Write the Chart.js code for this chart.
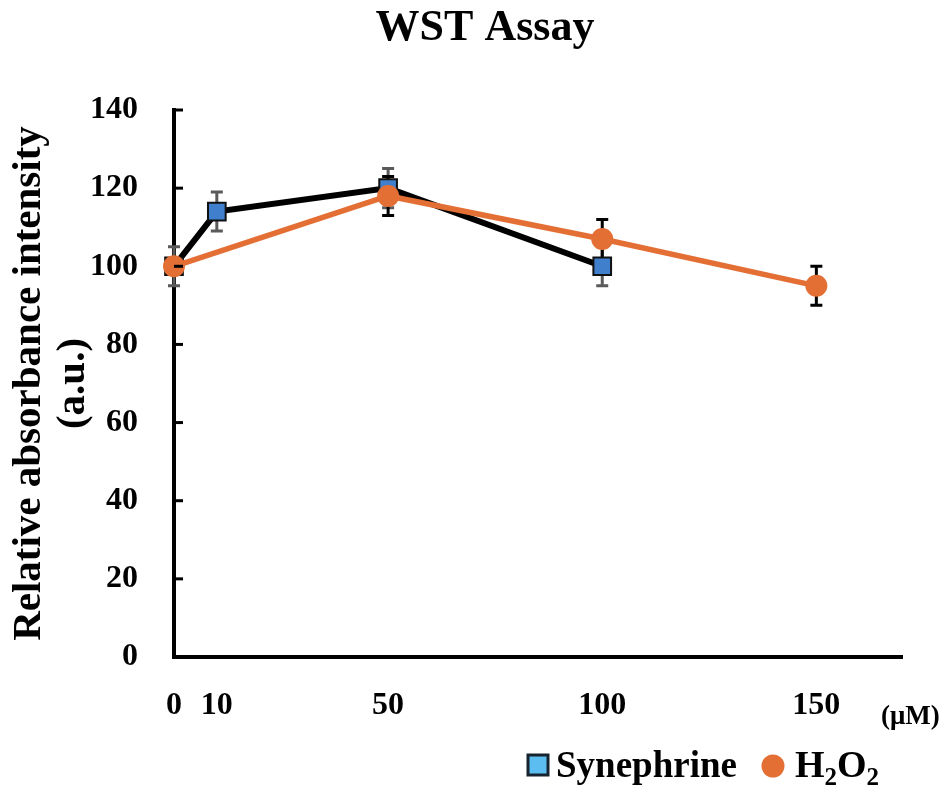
<!DOCTYPE html>
<html>
<head>
<meta charset="utf-8">
<title>WST Assay</title>
<script src="https://cdn.jsdelivr.net/npm/chart.js@4.4.1/dist/chart.umd.min.js"></script>
<style>
  html, body { margin: 0; padding: 0; background: #fff; }
  #wrap { width: 950px; height: 786px; }
</style>
</head>
<body>
<div id="wrap"><canvas id="chart" width="950" height="786"></canvas></div>
<script>
// values
const synephrineDose = [0, 10, 50, 100];
const synephrineValues = [100, 114, 120, 100];
const synephrineErrors = [5, 5, 5, 5];
const h2o2Dose = [0, 50, 100, 150];
const h2o2Values = [100, 118, 107, 95];
const h2o2Errors = [0, 5, 5, 5];
const doseTicks = [0, 10, 50, 100, 150];

const serif = '"Liberation Serif", "Times New Roman", serif';
const orange = '#E46F34';
const blue = '#3F7FCC';

const toPoints = (xs, ys) => xs.map((x, i) => ({ x: x, y: ys[i] }));

// error bars drawn under the markers
const errorBars = {
  id: 'errorBars',
  beforeDatasetsDraw(chart) {
    const { ctx, scales: { x, y } } = chart;
    chart.data.datasets.forEach((ds) => {
      if (!ds.errors) return;
      ctx.save();
      ctx.strokeStyle = ds.errorColor;
      ctx.lineWidth = 3;
      ds.data.forEach((p, i) => {
        const e = ds.errors[i];
        if (!e) return;
        const px = x.getPixelForValue(p.x);
        const top = y.getPixelForValue(p.y + e);
        const bot = y.getPixelForValue(p.y - e);
        ctx.beginPath();
        ctx.moveTo(px, top); ctx.lineTo(px, bot);
        ctx.moveTo(px - 6, top); ctx.lineTo(px + 6, top);
        ctx.moveTo(px - 6, bot); ctx.lineTo(px + 6, bot);
        ctx.stroke();
      });
      ctx.restore();
    });
  }
};

// title, inward y ticks, unit label and legend
const extras = {
  id: 'extras',
  afterDraw(chart) {
    const { ctx, chartArea, scales: { y } } = chart;
    ctx.save();
    ctx.strokeStyle = '#000';
    ctx.lineWidth = 3;
    y.ticks.forEach(t => {
      const py = y.getPixelForValue(t.value);
      ctx.beginPath();
      ctx.moveTo(chartArea.left, py);
      ctx.lineTo(chartArea.left + 9, py);
      ctx.stroke();
    });

    ctx.fillStyle = '#000';
    ctx.textAlign = 'center';
    ctx.textBaseline = 'alphabetic';
    ctx.font = 'bold 44px ' + serif;
    ctx.fillText('WST Assay', 485, 40);

    ctx.textAlign = 'left';
    ctx.font = 'bold 27px ' + serif;
    ctx.fillText('(\u03BCM)', 881, 724);

    // legend
    ctx.fillStyle = '#5BBDF0';
    ctx.strokeStyle = '#17232E';
    ctx.lineWidth = 3;
    ctx.fillRect(528, 755, 20, 20);
    ctx.strokeRect(528, 755, 20, 20);
    ctx.fillStyle = '#000';
    ctx.font = 'bold 37px ' + serif;
    ctx.fillText('Synephrine', 556, 777);

    ctx.fillStyle = orange;
    ctx.beginPath();
    ctx.arc(773, 766, 11.5, 0, Math.PI * 2);
    ctx.fill();

    ctx.fillStyle = '#000';
    let xPos = 795;
    const parts = [['H', 38, 0], ['2', 25, 8], ['O', 38, 0], ['2', 25, 8]];
    parts.forEach(([s, size, dy]) => {
      ctx.font = 'bold ' + size + 'px ' + serif;
      ctx.fillText(s, xPos, 777 + dy);
      xPos += ctx.measureText(s).width;
    });
    ctx.restore();
  }
};

new Chart(document.getElementById('chart'), {
  type: 'line',
  data: {
    datasets: [
      {
        label: 'Synephrine',
        data: toPoints(synephrineDose, synephrineValues),
        errors: synephrineErrors,
        errorColor: '#5A5A5A',
        borderColor: '#000',
        borderWidth: 6,
        pointStyle: 'rect',
        pointRadius: 12.5,
        pointBackgroundColor: blue,
        pointBorderColor: '#111',
        pointBorderWidth: 2,
        tension: 0,
        clip: false,
        order: 2
      },
      {
        label: 'H\u2082O\u2082',
        data: toPoints(h2o2Dose, h2o2Values),
        errors: h2o2Errors,
        errorColor: '#000',
        borderColor: orange,
        borderWidth: 5.5,
        pointStyle: 'circle',
        pointRadius: 11,
        pointBackgroundColor: orange,
        pointBorderColor: orange,
        pointBorderWidth: 0,
        tension: 0,
        clip: false,
        order: 1
      }
    ]
  },
  options: {
    responsive: false,
    animation: false,
    layout: { padding: { top: 110, right: 48, bottom: 0, left: 0 } },
    plugins: {
      legend: { display: false },
      title: { display: false },
      tooltip: { enabled: false }
    },
    scales: {
      x: {
        type: 'linear',
        min: 0,
        max: 170,
        afterBuildTicks: (scale) => { scale.ticks = doseTicks.map(v => ({ value: v })); },
        afterFit: (scale) => { scale.height = 129; },
        grid: { display: false },
        border: { display: true, color: '#000', width: 4 },
        ticks: {
          color: '#000',
          padding: 22,
          maxRotation: 0,
          autoSkip: false,
          font: { family: serif, size: 32, weight: 'bold' }
        }
      },
      y: {
        min: 0,
        max: 140,
        afterFit: (scale) => { scale.width = 174; },
        grid: { display: false },
        border: { display: true, color: '#000', width: 4 },
        ticks: {
          stepSize: 20,
          color: '#000',
          padding: 28,
          font: { family: serif, size: 32, weight: 'bold' }
        },
        title: {
          display: true,
          text: ['Relative absorbance intensity', '(a.u.)'],
          color: '#000',
          padding: { top: 8, bottom: 0 },
          font: { family: serif, size: 41, weight: 'bold', lineHeight: 1.06 }
        }
      }
    }
  },
  plugins: [errorBars, extras]
});
</script>
</body>
</html>
